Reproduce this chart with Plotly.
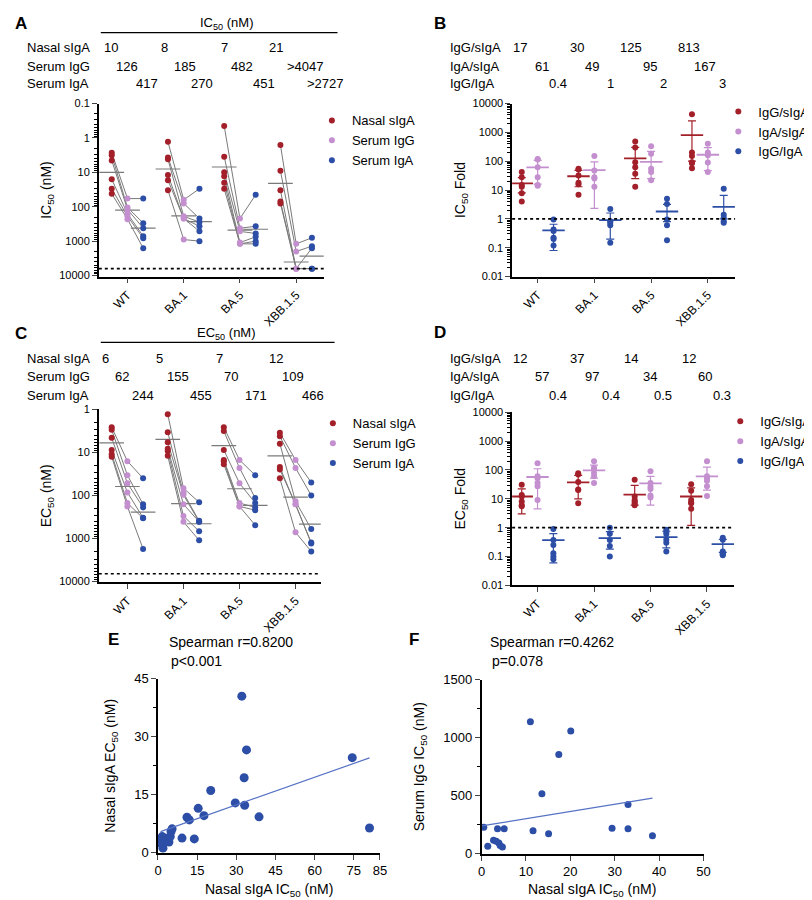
import numpy as np
import plotly.graph_objects as go

W, H = 812, 900
FONT = "Liberation Sans"
RED = "#a3202a"
PURPLE = "#c48fcf"
BLUE = "#2d4ea6"
GREY = "#7a7a7a"

variants = ["WT", "BA.1", "BA.5", "XBB.1.5"]

# panel A: IC50 (nM), one list per variant, subjects in matching order
a_siga = [[2.7, 3.2, 4.5, 16, 30, 42], [1.3, 3.7, 4.2, 12, 17, 33],
          [0.45, 3.5, 10, 13, 20, 30], [1.6, 9, 33, 70, 80]]
a_igg = [[58, 105, 120, 160, 190, 230], [63, 80, 190, 220, 220, 900],
         [220, 420, 520, 1100, 1200, 1200], [1200, 2000, 6300, 6300, 6300]]
a_iga = [[58, 300, 420, 720, 820, 1600], [30, 220, 280, 370, 520, 1000],
         [45, 370, 600, 750, 1000, 1200], [800, 1400, 1600, 6300, 6300]]
a_tab_siga = ["10", "8", "7", "21"]
a_tab_igg = ["126", "185", "482", ">4047"]
a_tab_iga = ["417", "270", "451", ">2727"]
a_med_siga = [10, 8, 7, 21]
a_med_igg = [126, 185, 482, 4047]
a_med_iga = [417, 270, 451, 2727]

# panel C: EC50 (nM)
c_siga = [[2.6, 3, 4.6, 8.8, 11, 12.6], [1.3, 3.4, 5.8, 8.2, 9.3, 12],
          [2.6, 3.2, 8.8, 15, 16, 19], [3.5, 4.2, 6.3, 22, 25, 40]]
c_igg = [[16, 34, 52, 85, 150, 180], [68, 88, 97, 160, 300, 410],
         [15, 23, 52, 150, 180, 180], [15, 23, 137, 160, 160, 720]]
c_iga = [[40, 160, 190, 330, 340, 1750], [144, 390, 410, 410, 680, 1100],
         [34, 115, 150, 190, 220, 490], [50, 100, 600, 1240, 1300, 2000]]
c_tab_siga = ["6", "5", "7", "12"]
c_tab_igg = ["62", "155", "70", "109"]
c_tab_iga = ["244", "455", "171", "466"]
c_med_siga = [6, 5, 7, 12]
c_med_igg = [62, 155, 70, 109]
c_med_iga = [244, 455, 171, 466]

# panel B: IC50 fold
b_igg_siga = [[42, 28, 15, 13, 7.7, 4], [55, 52, 32, 18, 16, 6.8],
              [480, 300, 92, 62, 37, 13], [4200, 200, 150, 92, 85, 57]]
b_iga_siga = [[120, 115, 62, 28, 15, 14], [150, 48, 28, 25, 13],
              [330, 180, 55, 42, 22], [400, 200, 160, 90, 42]]
b_igg_iga = [[0.95, 0.43, 0.38, 0.22, 0.2, 0.12], [2.2, 0.83, 0.73, 0.6, 0.15],
             [5, 3.3, 0.95, 0.6, 0.18], [11, 1.4, 1.1, 0.83, 0.74]]
b_tab1 = ["17", "30", "125", "813"]
b_tab2 = ["61", "49", "95", "167"]
b_tab3 = ["0.4", "1", "2", "3"]
b_mean1, b_hi1, b_lo1 = [17, 30, 125, 800], [10, 18, 175, 1700], [9, 17, 100, 700]
b_mean2, b_hi2, b_lo2 = [61, 49, 95, 167], [45, 45, 125, 130], [45, 46.7, 70, 120]
b_mean3, b_hi3, b_lo3 = [0.4, 0.9, 1.8, 2.6], [0.25, 0.7, 1.4, 3.9], [0.32, 0.7, 1.0, 1.6]

# panel D: EC50 fold
d_igg_siga = [[31, 13.5, 12, 8, 6, 5.5], [77, 70, 38, 21, 20, 7],
              [46, 12, 9, 8, 7, 6], [32, 19, 9, 7.5, 7, 4.5]]
d_iga_siga = [[170, 60, 52, 27, 9, 35], [200, 120, 110, 78, 60, 35],
              [90, 35, 26, 22, 13, 11], [200, 52, 42, 27, 12.5, 60]]
d_igg_iga = [[0.9, 0.37, 0.25, 0.13, 0.1, 0.08], [1, 0.62, 0.37, 0.23, 0.1],
             [0.85, 0.6, 0.38, 0.3, 0.15, 0.7], [0.45, 0.38, 0.13, 0.12, 0.11, 0.15]]
d_tab1 = ["12", "37", "14", "12"]
d_tab2 = ["57", "97", "34", "60"]
d_tab3 = ["0.4", "0.4", "0.5", "0.3"]
d_mean1, d_hi1, d_lo1 = [12, 37, 14, 12], [10, 28, 15, 12], [9, 27, 8, 10.8]
d_mean2, d_hi2, d_lo2 = [57, 97, 34, 60], [53, 50, 26, 65], [52.5, 45, 28, 40]
d_mean3, d_hi3, d_lo3 = [0.37, 0.43, 0.47, 0.27], [0.25, 0.3, 0.28, 0.12], [0.31, 0.25, 0.27, 0.13]

# panel E / F scatter
e_x = [0, 0.6, 0.9, 1.6, 1.9, 2.5, 3.1, 3.8, 4.2, 4.7, 5, 5.4, 9.2, 11.1, 12, 13.9,
       15.4, 17.6, 20.2, 29.6, 32.1, 33, 33.2, 33.9, 38.7, 74.4, 81]
e_y = [3.4, 3.4, 2.5, 4.2, 1.2, 3.8, 3, 3.4, 2.8, 4.2, 5.5, 6.2, 3.8, 9.2, 8.5, 3.6,
       11.5, 9.6, 16.1, 12.9, 40.5, 19.4, 12.3, 26.6, 9.3, 24.6, 6.4]
f_x = [0.5, 1.4, 2.7, 3.3, 3.6, 3.9, 4.2, 4.7, 5.1, 11, 11.6, 13.6, 15.1, 17.4,
       20.1, 29.4, 33, 33, 38.5]
f_y = [229, 65, 116, 107, 215, 93, 71, 59, 215, 1138, 198, 517, 172, 856,
       1059, 220, 424, 215, 155]


def px(x):
    return x / W


def py(y):
    return 1 - y / H


fig = go.Figure()
OFF = 0.28


def paired_panel(xa, ya, siga, igg, iga, meds, legend):
    # connecting lines per subject
    lx, ly = [], []
    for i in range(4):
        for s, g, a in zip(siga[i], igg[i], iga[i]):
            lx += [i - OFF, i, i + OFF, None]
            ly += [s, g, a, None]
    fig.add_trace(go.Scatter(x=lx, y=ly, mode="lines", xaxis=xa, yaxis=ya,
                             line=dict(color=GREY, width=1), showlegend=False))
    # median ticks
    mx, my = [], []
    for k, off in enumerate([-OFF, 0, OFF]):
        for i in range(4):
            mx += [i + off - 0.22, i + off + 0.22, None]
            my += [meds[k][i], meds[k][i], None]
    fig.add_trace(go.Scatter(x=mx, y=my, mode="lines", xaxis=xa, yaxis=ya,
                             line=dict(color=GREY, width=1.2), showlegend=False))
    for vals, off, col, name in [(siga, -OFF, RED, "Nasal sIgA"),
                                 (igg, 0, PURPLE, "Serum IgG"),
                                 (iga, OFF, BLUE, "Serum IgA")]:
        xs = [i + off for i in range(4) for _ in vals[i]]
        ys = [v for i in range(4) for v in vals[i]]
        fig.add_trace(go.Scatter(x=xs, y=ys, mode="markers", xaxis=xa, yaxis=ya,
                                 name=name, legend=legend,
                                 marker=dict(color=col, size=6)))


def fold_panel(xa, ya, groups, legend):
    for vals, mean, hi, lo, off, col, name in groups:
        xs = [i + off for i in range(4) for _ in vals[i]]
        ys = [v for i in range(4) for v in vals[i]]
        fig.add_trace(go.Scatter(x=xs, y=ys, mode="markers", xaxis=xa, yaxis=ya,
                                 name=name, legend=legend,
                                 marker=dict(color=col, size=6)))
        fig.add_trace(go.Scatter(
            x=[i + off for i in range(4)], y=mean, mode="markers", xaxis=xa, yaxis=ya,
            showlegend=False,
            marker=dict(symbol="line-ew", size=16, line=dict(color=col, width=1.8)),
            error_y=dict(type="data", array=hi, arrayminus=lo, color=col,
                         thickness=1.2, width=4)))


paired_panel("x", "y", a_siga, a_igg, a_iga,
             [a_med_siga, a_med_igg, a_med_iga], "legend")
fold_panel("x2", "y2", [
    (b_igg_siga, b_mean1, b_hi1, b_lo1, -OFF, RED, "IgG/sIgA"),
    (b_iga_siga, b_mean2, b_hi2, b_lo2, 0, PURPLE, "IgA/sIgA"),
    (b_igg_iga, b_mean3, b_hi3, b_lo3, OFF, BLUE, "IgG/IgA")], "legend2")
paired_panel("x3", "y3", c_siga, c_igg, c_iga,
             [c_med_siga, c_med_igg, c_med_iga], "legend3")
fold_panel("x4", "y4", [
    (d_igg_siga, d_mean1, d_hi1, d_lo1, -OFF, RED, "IgG/sIgA"),
    (d_iga_siga, d_mean2, d_hi2, d_lo2, 0, PURPLE, "IgA/sIgA"),
    (d_igg_iga, d_mean3, d_hi3, d_lo3, OFF, BLUE, "IgG/IgA")], "legend4")

# E / F
for xa, ya, xs, ys, size in [("x5", "y5", e_x, e_y, 9), ("x6", "y6", f_x, f_y, 7)]:
    fig.add_trace(go.Scatter(x=xs, y=ys, mode="markers", xaxis=xa, yaxis=ya,
                             showlegend=False, marker=dict(color=BLUE, size=size)))
    k, b = np.polyfit(xs, ys, 1)
    lx = [min(xs) + 1 if xa == "x5" else 0, max(xs)]
    fig.add_trace(go.Scatter(x=lx, y=[k * v + b for v in lx], mode="lines",
                             xaxis=xa, yaxis=ya, showlegend=False,
                             line=dict(color="#5572c4", width=1.2)))

axis_common = dict(showline=True, linecolor="black", linewidth=1.5, ticks="outside",
                   ticklen=5, tickwidth=1.2, showgrid=False, zeroline=False,
                   tickfont=dict(size=11, color="black"))
log_ticks = [0.01, 0.1, 1, 10, 100, 1000, 10000]
log_text = ["0.01", "0.1", "1", "10", "100", "1000", "10000"]
minor = dict(ticks="outside", ticklen=3, tickcolor="black", dtick="D1", showgrid=False)


def cat_x(x0, x1, rng):
    return dict(axis_common, domain=[px(x0), px(x1)], range=rng, tickvals=[0, 1, 2, 3],
                ticktext=variants, tickangle=-45, tickfont=dict(size=12, color="black"))


def log_y(y0, y1, rng, title, anchor):
    return dict(axis_common, domain=[py(y1), py(y0)], type="log", range=rng,
                tickvals=log_ticks, ticktext=log_text, minor=minor, anchor=anchor,
                title=dict(text=title, font=dict(size=14), standoff=4))


fig.update_layout(
    xaxis=dict(cat_x(88, 316, [-0.51, 3.49]), anchor="y"),
    yaxis=log_y(90, 266, [4.03, -1], "IC<sub>50</sub> (nM)", "x"),
    xaxis2=dict(cat_x(507, 733, [-0.45, 3.48]), anchor="y2"),
    yaxis2=log_y(90, 266, [-2, 4], "IC<sub>50</sub> Fold", "x2"),
    xaxis3=dict(cat_x(88, 313, [-0.51, 3.45]), anchor="y3"),
    yaxis3=log_y(401, 577, [4.02, 0], "EC<sub>50</sub> (nM)", "x3"),
    xaxis4=dict(cat_x(507, 732, [-0.45, 3.48]), anchor="y4"),
    yaxis4=log_y(404, 580, [-2, 4], "EC<sub>50</sub> Fold", "x4"),
    xaxis5=dict(axis_common, domain=[px(148), px(373)], range=[0, 85], anchor="y5",
                tickvals=[0, 15, 30, 45, 60, 75, 85], tickfont=dict(size=13, color="black")),
    yaxis5=dict(axis_common, domain=[py(852), py(675)], range=[0, 45], anchor="x5",
                tickvals=[0, 15, 30, 45], tickfont=dict(size=13, color="black"),
                minor=dict(ticks="outside", ticklen=3, dtick=7.5, tickcolor="black"),
                title=dict(text="Nasal sIgA EC<sub>50</sub> (nM)", font=dict(size=14))),
    xaxis6=dict(axis_common, domain=[px(476), px(701)], range=[0, 50], anchor="y6",
                tickvals=[0, 10, 20, 30, 40, 50], tickfont=dict(size=13, color="black")),
    yaxis6=dict(axis_common, domain=[py(853), py(676)], range=[0, 1500], anchor="x6",
                tickvals=[0, 500, 1000, 1500], tickfont=dict(size=13, color="black"),
                minor=dict(ticks="outside", ticklen=3, dtick=250, tickcolor="black"),
                title=dict(text="Serum IgG IC<sub>50</sub> (nM)", font=dict(size=14))),
)

leg = dict(font=dict(size=13), bgcolor="rgba(0,0,0,0)", itemsizing="trace",
           tracegroupgap=0, xanchor="left", yanchor="top", itemwidth=30)
fig.update_layout(
    legend=dict(leg, x=px(304), y=py(92)),
    legend2=dict(leg, x=px(716), y=py(83)),
    legend3=dict(leg, x=px(305), y=py(400)),
    legend4=dict(leg, x=px(718), y=py(398)),
)

ann = []


def text(x, y, s, size=13, anchor="center"):
    ann.append(dict(x=px(x), y=py(y), xref="paper", yref="paper", text=s,
                    showarrow=False, xanchor=anchor, yanchor="middle",
                    font=dict(size=size, color="black", family=FONT)))


def table(y0, labels, rows, cols, lx):
    for r, (lab, vals) in enumerate(zip(labels, rows)):
        y = y0[r]
        text(lx, y, lab, anchor="left")
        for xv, v in zip(cols[r], vals):
            text(xv, y, v)


left_cols = [[100, 155, 215, 268], [117, 175, 233, 298], [137, 193, 255, 318]]
table([33, 52, 70], ["Nasal sIgA", "Serum IgG", "Serum IgA"],
      [a_tab_siga, a_tab_igg, a_tab_iga], left_cols, 13)
c_cols = [[95, 150, 210, 268], [112, 168, 222, 285], [133, 192, 247, 305]]
table([349, 368, 387], ["Nasal sIgA", "Serum IgG", "Serum IgA"],
      [c_tab_siga, c_tab_igg, c_tab_iga], c_cols, 13)
right_cols = [[515, 573, 628, 686], [537, 588, 647, 703], [553, 607, 660, 720]]
table([33, 52, 70], ["IgG/sIgA", "IgA/sIgA", "IgG/IgA"],
      [b_tab1, b_tab2, b_tab3], right_cols, 442)
table([349, 368, 387], ["IgG/sIgA", "IgA/sIgA", "IgG/IgA"],
      [d_tab1, d_tab2, d_tab3], right_cols, 442)

text(217, 9, "IC<sub>50</sub> (nM)")
text(217, 324, "EC<sub>50</sub> (nM)")
for lab, x, y in [("A", 9, 9), ("B", 434, 9), ("C", 9, 324), ("D", 434, 323),
                  ("E", 103, 635), ("F", 408, 635)]:
    text(x, y, "<b>%s</b>" % lab, size=17)
text(157, 638, "Spearman r=0.8200", size=14, anchor="left")
text(159, 657, "p<0.001", size=14, anchor="left")
text(483, 638, "Spearman r=0.4262", size=14, anchor="left")
text(485, 657, "p=0.078", size=14, anchor="left")
text(261, 890, "Nasal sIgA IC<sub>50</sub> (nM)", size=14)
text(588, 890, "Nasal sIgA IC<sub>50</sub> (nM)", size=14)

shapes = [
    dict(type="line", xref="paper", yref="paper", x0=px(90), x1=px(330),
         y0=py(18), y1=py(18), line=dict(color="black", width=1.2)),
    dict(type="line", xref="paper", yref="paper", x0=px(90), x1=px(327),
         y0=py(333), y1=py(333), line=dict(color="black", width=1.2)),
]
for xa, ya, yv in [("x", "y", 6300), ("x2", "y2", 1), ("x3", "y3", 6600), ("x4", "y4", 1)]:
    shapes.append(dict(type="line", xref=xa + " domain", yref=ya, x0=0, x1=1,
                       y0=yv, y1=yv, line=dict(color="black", width=1.6, dash="dot")))

fig.update_layout(
    width=W, height=H, margin=dict(l=0, r=0, t=0, b=0),
    paper_bgcolor="white", plot_bgcolor="white",
    font=dict(family=FONT, color="black", size=12),
    annotations=ann, shapes=shapes,
)

fig.write_html("out.html")
